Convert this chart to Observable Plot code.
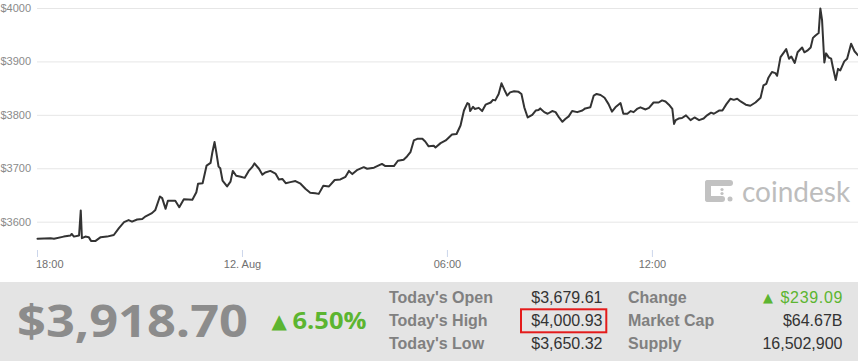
<!DOCTYPE html>
<html><head><meta charset="utf-8">
<script src="https://cdn.jsdelivr.net/npm/d3@7"></script>
<script src="https://cdn.jsdelivr.net/npm/@observablehq/plot@0.6"></script>
<style>
html,body{margin:0;padding:0;background:#fff;}
#wrap{position:relative;width:858px;height:361px;overflow:hidden;font-family:"Liberation Sans",Arial,sans-serif;}
#chart{position:absolute;left:0;top:0;}
#wm{position:absolute;left:705px;top:176px;height:30px;display:flex;align-items:center;color:#bdbdbd;font-family:Lato,"Open Sans",sans-serif;font-size:28px;white-space:nowrap;}
#wm svg{margin-right:9px;}
#panel{position:absolute;left:0;top:282px;}
</style></head><body>
<div id="wrap">
  <div id="chart"></div>
  <div id="wm"><svg width="28" height="22" viewBox="0 0 28 22">
    <g fill="#c2c2c2">
      <rect x="0" y="0" width="28" height="6" rx="3"/>
      <rect x="0" y="0" width="6" height="22" rx="3"/>
      <rect x="0" y="16" width="20" height="6" rx="3"/>
      <circle cx="25" cy="19" r="2.5"/>
      <circle cx="17" cy="9.5" r="1.6"/>
      <circle cx="17" cy="13.5" r="1.6"/>
    </g></svg><span>coindesk</span></div>
  <svg id="panel" width="858" height="79"></svg>
</div>
<script>
// minutes after 18:00 (11 Aug) and price in USD
const minutes = [0,23,29,46,58,60,64,73,76,78,84,90,94,102,111,122,134,143,152,160,166,175,184,190,201,207,215,219,225,229,242,249,257,272,279,282,290,297,304,307,311,314,318,321,325,333,339,343,349,357,
364,371,377,381,389,395,400,409,418,424,430,436,444,453,462,471,479,488,494,502,512,522,532,541,547,553,562,573,579,591,605,611,626,633,643,649,655,661,667,676,681,687,696,699,708,717,
728,736,743,749,755,758,760,765,768,775,781,787,796,800,804,810,815,820,825,830,837,845,850,855,861,869,875,880,883,890,896,904,910,916,922,927,933,939,948,957,962,971,977,982,989,996,1003,1009,1015,1024,1029,1036,1042,1047,1053,
1059,1068,1074,1082,1091,1097,1103,1109,1115,1118,1121,1126,1132,1139,1147,1154,1162,1170,1176,1183,1188,1197,1203,1210,1217,1223,1229,1235,1244,1252,1261,1270,1275,1280,1284,1290,1296,1299,1305,1311,1315,1320,1324,1330,1335,1343,1347,1352,1358,1362,1366,1372,1375,1378,1382,1385,1390,1394,1397,1402,1406,1410,1417,1422,1429,1435,1439,1442];
const prices = [3569,3570,3569,3573,3575,3578,3573,3575,3622,3570,3573,3572,3565,3565,3572,3573,3576,3589,3600,3604,3601,3605,3606,3611,3617,3623,3648,3645,3625,3640,3640,3628,3643,3642,3656,3672,3673,3706,3711,3730,3750,3731,3704,3701,3678,3667,3676,3696,3687,3685,
3683,3696,3703,3710,3700,3689,3693,3696,3691,3680,3681,3673,3675,3677,3672,3662,3655,3654,3653,3668,3667,3679,3680,3685,3696,3690,3698,3703,3700,3702,3709,3705,3705,3715,3717,3723,3731,3753,3756,3756,3751,3742,3743,3740,3748,3753,
3764,3765,3781,3809,3823,3821,3808,3816,3812,3814,3808,3820,3824,3829,3828,3840,3860,3848,3837,3843,3845,3844,3840,3815,3796,3801,3809,3810,3813,3806,3803,3808,3806,3796,3788,3793,3798,3808,3806,3809,3813,3815,3837,3840,3838,3833,3821,3807,3815,3823,3803,3803,3808,3806,3812,
3815,3811,3814,3824,3824,3828,3826,3820,3812,3784,3791,3794,3795,3800,3791,3796,3791,3794,3800,3805,3803,3809,3809,3821,3831,3829,3831,3826,3820,3818,3824,3833,3856,3859,3871,3881,3879,3874,3909,3918,3924,3906,3910,3898,3918,3927,3918,3921,3927,3945,3949,3954,4000,3978,3899,3916,3908,3906,3890,3866,3887,3884,3901,3906,3934,3920,3915,3912];

const yTicks = [3600, 3700, 3800, 3900, 4000];
const xTickMinutes = [0, 360, 720, 1080];
const xTickLabels = ["18:00", "12. Aug", "06:00", "12:00"];
const domainMinutes = [0, 1442];

const currentPrice = "$3,918.70";
const pctChange = "6.50%";
const statLabelsLeft = ["Today's Open", "Today's High", "Today's Low"];
const statValuesLeft = ["$3,679.61", "$4,000.93", "$3,650.32"];
const statLabelsRight = ["Change", "Market Cap", "Supply"];
const statValuesRight = ["$239.09", "$64.67B", "16,502,900"];

const start = Date.UTC(2017, 7, 11, 18, 0);
const toDate = m => new Date(start + m * 60000);
const data = minutes.map((m, i) => ({t: toDate(m), price: prices[i]}));
const tickDates = xTickMinutes.map(toDate);
const labelOf = new Map(tickDates.map((d, i) => [+d, xTickLabels[i]]));
const fmt = d => labelOf.get(+d);
const font = '"Liberation Sans", Arial, sans-serif';

const chart = Plot.plot({
  width: 858, height: 282,
  marginLeft: 37, marginRight: 0, marginTop: 8, marginBottom: 32,
  style: {fontFamily: font, background: "transparent", overflow: "visible"},
  x: {type: "utc", domain: domainMinutes.map(toDate), axis: null, label: null},
  y: {domain: [3547, 4000], axis: null, label: null},
  marks: [
    Plot.ruleY(yTicks, {stroke: "#e6e6e6", strokeWidth: 1}),
    Plot.axisY(yTicks, {anchor: "left", label: null, tickSize: 0, tickPadding: 37, textAnchor: "start",
      tickFormat: d => "$" + d, fill: "#8a8a8a", fontSize: 11}),
    Plot.axisX(tickDates, {anchor: "bottom", label: null, tickSize: 7, tickPadding: 3, tickFormat: () => "",
      stroke: "#ccd6eb", strokeWidth: 1}),
    Plot.axisX(tickDates.slice(0, 1), {anchor: "bottom", label: null, tickSize: 0, tickPadding: 10, tickFormat: fmt,
      textAnchor: "start", dx: -1.5, fill: "#707070", fontSize: 11}),
    Plot.axisX(tickDates.slice(1), {anchor: "bottom", label: null, tickSize: 0, tickPadding: 10, tickFormat: fmt,
      fill: "#707070", fontSize: 11}),
    Plot.line(data, {x: "t", y: "price", stroke: "#333", strokeWidth: 2})
  ]
});
document.getElementById("chart").append(chart);

// bottom panel
const green = "#5cb531";
const p = d3.select("#panel");
p.append("rect").attr("width", 858).attr("height", 79).attr("fill", "#e4e4e4");
p.append("text").text(currentPrice).attr("x", 17).attr("y", 55)
  .attr("textLength", 231).attr("lengthAdjust", "spacingAndGlyphs")
  .attr("font-family", '"Open Sans", sans-serif').attr("font-weight", 700).attr("font-size", 44)
  .attr("fill", "#8c8c8c");
p.append("text").text("▲").attr("x", 271.5).attr("y", 45.5)
  .attr("font-family", '"DejaVu Sans", sans-serif').attr("font-size", 20).attr("fill", green);
p.append("text").text(pctChange).attr("x", 292.5).attr("y", 46.5)
  .attr("textLength", 74).attr("lengthAdjust", "spacingAndGlyphs")
  .attr("font-family", '"Open Sans", sans-serif').attr("font-weight", 700).attr("font-size", 23)
  .attr("fill", green);

const rowY = [20.5, 43.5, 66.5];
statLabelsLeft.forEach((s, i) => {
  p.append("text").text(s).attr("x", 389).attr("y", rowY[i])
    .attr("font-family", font).attr("font-weight", 700).attr("font-size", 16).attr("fill", "#808080");
  p.append("text").text(statValuesLeft[i]).attr("x", 602.5).attr("y", rowY[i]).attr("text-anchor", "end")
    .attr("font-family", font).attr("font-size", 16).attr("fill", "#333");
});
statLabelsRight.forEach((s, i) => {
  p.append("text").text(s).attr("x", 628).attr("y", rowY[i])
    .attr("font-family", font).attr("font-weight", 700).attr("font-size", 16).attr("fill", "#808080");
  p.append("text").text(statValuesRight[i]).attr("x", 842.5).attr("y", rowY[i]).attr("text-anchor", "end")
    .attr("font-family", font).attr("font-size", 16).attr("fill", i === 0 ? green : "#333")
    .attr("textLength", i === 0 ? 62 : null).attr("lengthAdjust", i === 0 ? "spacing" : null);
});
p.append("text").text("▲").attr("x", 763).attr("y", rowY[0] - 1)
  .attr("font-family", '"DejaVu Sans", sans-serif').attr("font-size", 13).attr("fill", green);
// highlight box around today's high
p.append("rect").attr("x", 521).attr("y", 27.3).attr("width", 85.3).attr("height", 23)
  .attr("fill", "none").attr("stroke", "#e41b1b").attr("stroke-width", 2);
</script>
</body></html>
